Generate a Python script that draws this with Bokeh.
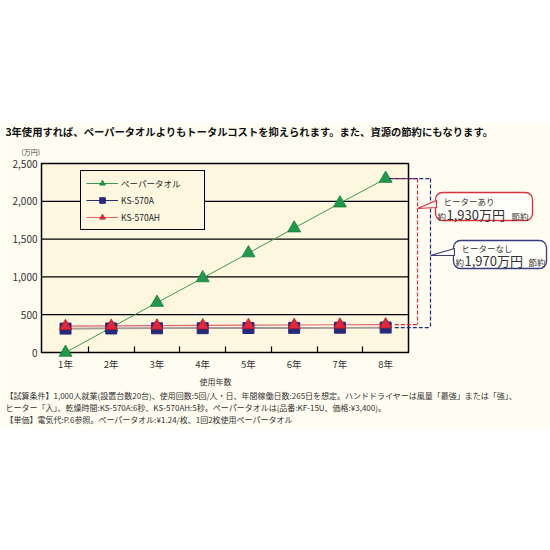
from bokeh.plotting import figure
from bokeh.models import (Legend, LegendItem, FixedTicker, Label, BoxAnnotation,
                          PolyAnnotation, Arrow, ColumnDataSource, Range1d)
from bokeh.embed import file_html
from bokeh.resources import INLINE

# ---------------- data ----------------
years = [1, 2, 3, 4, 5, 6, 7, 8]
year_labels = ["1年", "2年", "3年", "4年", "5年", "6年", "7年", "8年"]
paper_towel = [0, 330, 660, 985, 1315, 1645, 1975, 2300]
ks570a = [316, 318, 320, 322, 324, 326, 328, 330]
ks570ah = [349, 352, 355, 358, 361, 364, 367, 370]
y_ticks = [0, 500, 1000, 1500, 2000, 2500]
y_tick_labels = ["0", "500", "1,000", "1,500", "2,000", "2,500"]
series_names = ["ペーパータオル", "KS-570A", "KS-570AH"]
title_text = "3年使用すれば、ペーパータオルよりもトータルコストを抑えられます。また、資源の節約にもなります。"
x_title = "使用年数"
y_unit = "(万円)"
notes = [
    "【試算条件】1,000人就業(設置台数20台)、使用回数:5回/人・日、年間稼働日数:265日を想定。ハンドドライヤーは風量「最強」または「強」、",
    "ヒーター「入」、乾燥時間:KS-570A:6秒、KS-570AH:5秒。ペーパータオルは(品番:KF-15U、価格:¥3,400)。",
    "【単価】電気代:P.6参照。ペーパータオル:¥1.24/枚、1回2枚使用ペーパータオル",
]
callout_heater_on = ["ヒーターあり", "約", "1,930万円", "節約"]
callout_heater_off = ["ヒーターなし", "約", "1,970万円", "節約"]

FONT = "Noto Sans CJK JP"
GREEN = "#1f9a4a"
NAVY = "#262a7c"
RED = "#e0283a"
CREAM = "#fcf7de"
PAGE = "#fffdf1"
BOXFILL = "#fffef8"

# chart region (data) and its place in the picture (pixels)
X0, X1 = 0.475, 8.5
Y0, Y1 = 0, 2500
PX_L, PX_R, PY_T, PY_B = 41, 408, 163, 352
W = H = 550
kx = (X1 - X0) / (PX_R - PX_L)
ky = (Y1 - Y0) / (PY_B - PY_T)
x_range = Range1d(X0 - PX_L * kx, X0 + (W - PX_L) * kx)
y_range = Range1d(Y0 - (H - PY_B) * ky, Y0 + PY_B * ky)


def sx(px):
    return px


def sy(py):
    return H - py


def screen_box(l, t, r, b, **kw):
    return BoxAnnotation(left=sx(l), right=sx(r), top=sy(t), bottom=sy(b),
                         left_units="screen", right_units="screen",
                         top_units="screen", bottom_units="screen", **kw)


p = figure(width=W, height=H, output_backend="svg", toolbar_location=None,
           x_range=x_range, y_range=y_range, min_border=0)
p.background_fill_color = "white"
p.border_fill_color = "white"
p.outline_line_color = None

# page band and chart area
p.add_layout(screen_box(0, 122, 550, 427, fill_color=PAGE, fill_alpha=1.0,
                        line_alpha=0, level="underlay"))
p.add_layout(BoxAnnotation(left=X0, right=X1, bottom=Y0, top=Y1,
                           fill_color=CREAM, fill_alpha=1.0, line_color="black",
                           line_alpha=1.0, line_width=1.5, level="underlay"))

# grid lines within the chart area
p.segment(x0=[X0] * (len(y_ticks) - 2), x1=[X1] * (len(y_ticks) - 2),
          y0=y_ticks[1:-1], y1=y_ticks[1:-1], line_color="black", line_width=1.2)
p.xgrid.grid_line_color = None
p.ygrid.grid_line_color = None

# axes fixed onto the chart area
p.xaxis.fixed_location = Y0
p.xaxis.bounds = (X0, X1)
p.xaxis.ticker = FixedTicker(ticks=years, minor_ticks=[1.5, 2.5, 3.5, 4.5, 5.5, 6.5, 7.5])
p.xaxis.major_label_overrides = {y: l for y, l in zip(years, year_labels)}
p.xaxis.major_tick_line_color = None
p.xaxis.major_tick_in = 0
p.xaxis.major_tick_out = 0
p.xaxis.minor_tick_in = 6
p.xaxis.minor_tick_out = 0
p.xaxis.minor_tick_line_color = "black"
p.xaxis.minor_tick_line_width = 1.2
p.xaxis.axis_line_color = None
p.xaxis.major_label_text_font = FONT
p.xaxis.major_label_text_font_size = "9.5px"
p.xaxis.major_label_text_color = "#333333"
p.xaxis.major_label_standoff = 4

p.yaxis.fixed_location = X0
p.yaxis.bounds = (Y0, Y1)
p.yaxis.ticker = FixedTicker(ticks=y_ticks)
p.yaxis.major_label_overrides = {t: l for t, l in zip(y_ticks, y_tick_labels)}
p.yaxis.major_tick_line_color = None
p.yaxis.major_tick_in = 0
p.yaxis.major_tick_out = 0
p.yaxis.minor_tick_line_color = None
p.yaxis.axis_line_color = None
p.yaxis.major_label_text_font = FONT
p.yaxis.major_label_text_font_size = "10px"
p.yaxis.major_label_text_color = "#333333"
p.yaxis.major_label_standoff = 4

# series
r_green_line = p.line(years, paper_towel, line_color="#3a9a50", line_width=1)
r_navy_legend = p.line(years, ks570a, line_color=NAVY, line_width=1.2)
p.line(years, ks570a, line_color="#a39e96", line_width=1.5)
r_red_line = p.line(years, ks570ah, line_color="#e06470", line_width=1.2)
r_green = p.scatter(years, paper_towel, marker="triangle", size=13,
                    fill_color=GREEN, line_color="#157a38", line_width=0.8)
r_navy = p.scatter(years, ks570a, marker="square", size=11,
                   fill_color=NAVY, line_color=NAVY)
r_red = p.scatter(years, ks570ah, marker="triangle", size=12,
                  fill_color=RED, line_color="#c01828", line_width=0.8)

legend = Legend(items=[
    LegendItem(label=series_names[0], renderers=[r_green_line, r_green]),
    LegendItem(label=series_names[1], renderers=[r_navy_legend, r_navy]),
    LegendItem(label=series_names[2], renderers=[r_red_line, r_red]),
], location=(sx(80), sy(230)))
legend.border_line_color = "black"
legend.border_line_width = 1.2
legend.border_line_alpha = 1.0
legend.background_fill_color = CREAM
legend.background_fill_alpha = 1.0
legend.label_text_font = FONT
legend.label_text_font_size = "8.5px"
legend.label_text_color = "#222222"
legend.glyph_width = 32
legend.glyph_height = 14
legend.spacing = 3
legend.padding = 5
legend.margin = 0
legend.label_standoff = 3
legend.label_width = 78
p.add_layout(legend, "center")

# brackets (dashed) from the last year's values
x_end = years[-1]
x_red = X0 + (417 - PX_L) * kx
x_navy = X0 + (430 - PX_L) * kx
bracket = ColumnDataSource(dict(
    x0=[x_end + 0.15, x_red, x_end + 0.2, x_end + 0.08, x_navy, x_end + 0.2],
    y0=[paper_towel[-1], paper_towel[-1], ks570ah[-1], paper_towel[-1], paper_towel[-1], ks570a[-1]],
    x1=[x_red, x_red, x_red, x_navy, x_navy, x_navy],
    y1=[paper_towel[-1], ks570ah[-1], ks570ah[-1], paper_towel[-1], ks570a[-1], ks570a[-1]],
    c=[RED, RED, RED, NAVY, NAVY, NAVY],
))
p.add_layout(Arrow(end=None, start=None, source=bracket, x_start="x0", y_start="y0",
                   x_end="x1", y_end="y1", line_color="c", line_width=1.2,
                   line_dash="4 2"))


def callout(box, tip, color, texts, tx):
    l, t, r, b = box
    p.add_layout(screen_box(l, t, r, b, fill_color=BOXFILL, fill_alpha=1.0,
                            line_color=color, line_alpha=1.0, line_width=1.3,
                            border_radius=7))
    mid = (t + b) / 2
    p.add_layout(PolyAnnotation(xs=[sx(l + 1), sx(tip[0]), sx(l + 1)],
                                ys=[sy(mid - 6), sy(tip[1]), sy(mid + 1)],
                                xs_units="screen", ys_units="screen",
                                fill_color=BOXFILL, fill_alpha=1.0,
                                line_color=color, line_alpha=1.0, line_width=1.2))
    p.add_layout(PolyAnnotation(xs=[sx(l + 1.6), sx(l + 1.6), sx(l + 5), sx(l + 5)],
                                ys=[sy(mid - 5), sy(mid), sy(mid), sy(mid - 5)],
                                xs_units="screen", ys_units="screen",
                                fill_color=BOXFILL, fill_alpha=1.0, line_alpha=0))
    x_small, x_big, x_end2, y1, y2 = tx
    p.add_layout(Label(x=sx(x_small + 6), y=sy(y1), x_units="screen", y_units="screen",
                       text=texts[0], text_font=FONT, text_font_size="8.5px",
                       text_color="#333333", text_baseline="middle"))
    p.add_layout(Label(x=sx(x_small), y=sy(y2 + 1), x_units="screen", y_units="screen",
                       text=texts[1], text_font=FONT, text_font_size="8.5px",
                       text_color="#333333", text_baseline="middle"))
    p.add_layout(Label(x=sx(x_big), y=sy(y2), x_units="screen", y_units="screen",
                       text=texts[2], text_font=FONT, text_font_size="13px",
                       text_color="#333333", text_baseline="middle"))
    p.add_layout(Label(x=sx(x_end2), y=sy(y2 + 1), x_units="screen", y_units="screen",
                       text=texts[3], text_font=FONT, text_font_size="8.5px",
                       text_color="#333333", text_baseline="middle"))


callout((435, 192, 532, 220), (417, 208), "#d8303c", callout_heater_on,
        (437, 446, 511, 200, 214))
callout((453, 240, 546, 268), (430, 255), "#3a3c80", callout_heater_off,
        (455, 464, 528, 247, 260))

# texts
p.add_layout(Label(x=sx(5), y=sy(131), x_units="screen", y_units="screen",
                   text=title_text, text_font=FONT, text_font_size="10.3px",
                   text_font_style="bold", text_color="#111111", text_baseline="middle"))
p.add_layout(Label(x=sx(21), y=sy(151), x_units="screen", y_units="screen",
                   text=y_unit, text_font=FONT, text_font_size="7px",
                   text_color="#444444", text_baseline="middle"))
p.add_layout(Label(x=sx(215), y=sy(381), x_units="screen", y_units="screen",
                   text=x_title, text_font=FONT, text_font_size="8px",
                   text_color="#333333", text_baseline="middle", text_align="center"))
for line, yy in zip(notes, [395, 407, 419]):
    p.add_layout(Label(x=sx(5), y=sy(yy), x_units="screen", y_units="screen",
                       text=line, text_font=FONT, text_font_size="8px",
                       text_color="#333333", text_baseline="middle"))

open("out.html", "w").write(file_html(p, INLINE))
